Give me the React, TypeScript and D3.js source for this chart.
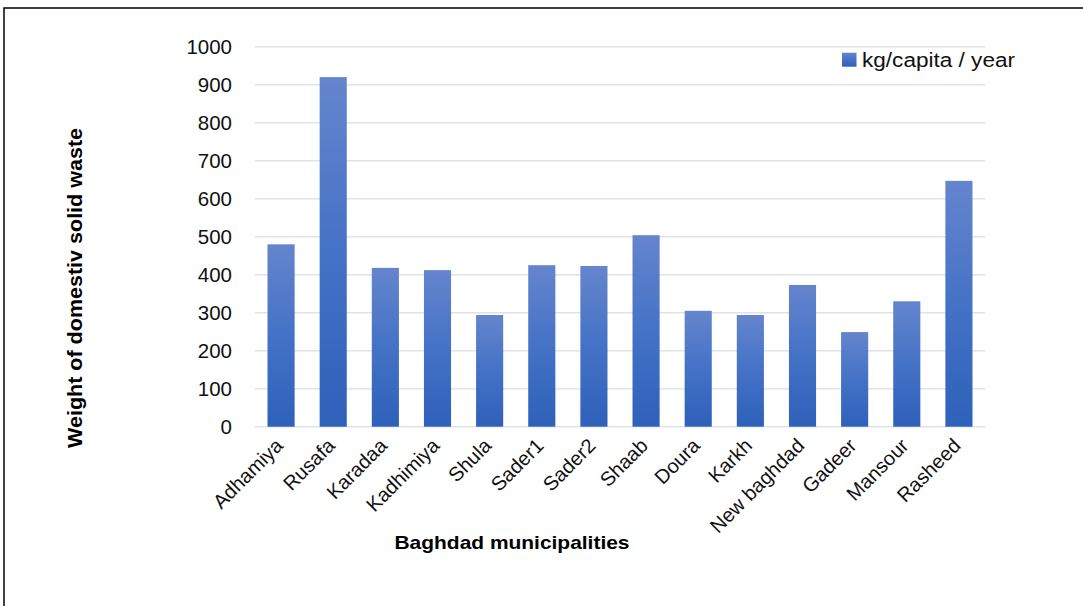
import React from "react";
import * as d3 from "d3";

const categories = [
  "Adhamiya", "Rusafa", "Karadaa", "Kadhimiya", "Shula", "Sader1", "Sader2",
  "Shaab", "Doura", "Karkh", "New baghdad", "Gadeer", "Mansour", "Rasheed",
];
const values = [480, 920, 418, 412, 294, 425, 423, 504, 305, 294, 373, 249, 330, 647];
const yTicks = [0, 100, 200, 300, 400, 500, 600, 700, 800, 900, 1000];
const seriesName = "kg/capita / year";
const xTitle = "Baghdad  municipalities";
const yTitle = "Weight of domestiv solid waste";

const W = 1083;
const H = 606;
const FONT = "'Liberation Sans', Arial, sans-serif";

export default function App() {
  const x = d3.scaleBand<string>().domain(categories).range([255, 985]).paddingInner(0.48).paddingOuter(0.24);
  const y = d3.scaleLinear().domain([0, 1000]).range([426.7, 46.7]);

  return (
    <svg width={W} height={H} style={{ position: "absolute", left: 0, top: 0 }} fontFamily={FONT}>
      <defs>
        <linearGradient id="barGrad" x1="0" y1="0" x2="0" y2="1">
          <stop offset="0" stopColor="#6585CD" />
          <stop offset="0.5" stopColor="#4472C6" />
          <stop offset="1" stopColor="#2E61BA" />
        </linearGradient>
      </defs>
      <rect x={0} y={0} width={W} height={H} fill="#fff" />
      <rect x={4} y={8} width={W + 20} height={H + 20} fill="none" stroke="#000" strokeWidth={1.5} />

      {yTicks.map((t) => (
        <line key={"g" + t} x1={255} x2={985} y1={y(t)} y2={y(t)} stroke="#dfe2e7" strokeWidth={1.5} />
      ))}
      {yTicks.map((t) => (
        <text key={"t" + t} x={232} y={y(t)} dy="0.36em" textAnchor="end" fontSize={20.5} fill="#111">
          {t}
        </text>
      ))}

      {categories.map((c, i) => (
        <rect
          key={c}
          x={x(c)}
          y={y(values[i])}
          width={x.bandwidth()}
          height={y(0) - y(values[i])}
          fill="url(#barGrad)"
        />
      ))}

      {categories.map((c) => (
        <text
          key={"l" + c}
          transform={`translate(${(x(c) as number) + x.bandwidth() / 2 + 3},${447}) rotate(-45)`}
          textAnchor="end"
          fontSize={20}
          fill="#111"
        >
          {c}
        </text>
      ))}

      <text x={512} y={549} textAnchor="middle" fontSize={19} fontWeight="bold" fill="#000" textLength={235} lengthAdjust="spacingAndGlyphs">
        {xTitle}
      </text>
      <text
        transform={`translate(82,${288}) rotate(-90)`}
        textAnchor="middle"
        fontSize={20}
        fontWeight="bold"
        fill="#000"
        textLength={320}
        lengthAdjust="spacingAndGlyphs"
      >
        {yTitle}
      </text>

      <rect x={842} y={52.7} width={14.5} height={14} fill="url(#barGrad)" />
      <text x={862} y={66.5} fontSize={20} fill="#111" textLength={153} lengthAdjust="spacingAndGlyphs">
        {seriesName}
      </text>
    </svg>
  );
}
